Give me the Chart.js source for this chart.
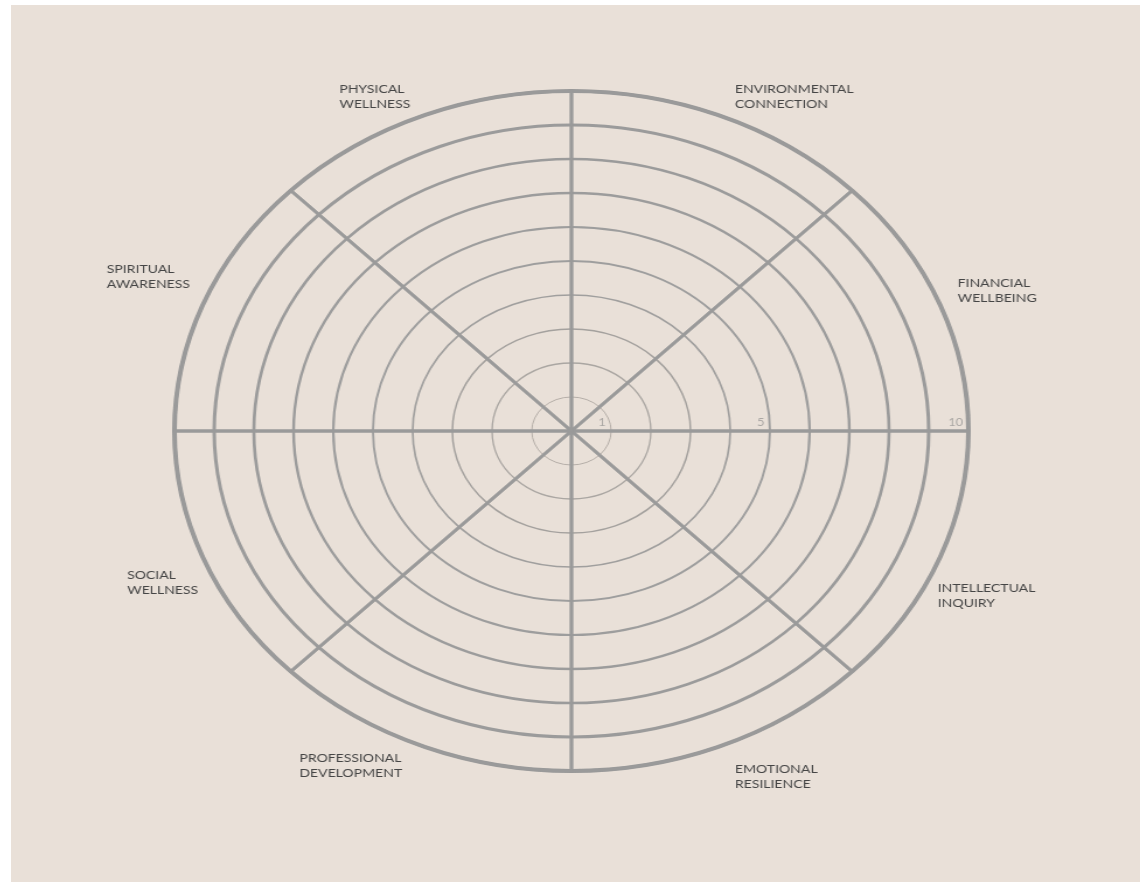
<!DOCTYPE html>
<html>
<head>
<meta charset="utf-8">
<script src="https://cdn.jsdelivr.net/npm/chart.js@4"></script>
<style>
    html, body { margin: 0; padding: 0; background: #ffffff; }
    #panel {
        position: absolute; left: 11px; top: 5px;
        width: 1129px; height: 877px;
        background: #e9e0d8; overflow: hidden;
    }
    #wheel {
        position: absolute; left: 0; top: 0;
        transform-origin: 0 0;
        transform: scaleX(1.1676);
    }
</style>
</head>
<body>
<div id="panel"><canvas id="wheel" width="966" height="877"></canvas></div>
<script>
// Wheel sectors, clockwise from the top spoke
let categories = [
    ['ENVIRONMENTAL', 'CONNECTION'],
    ['FINANCIAL', 'WELLBEING'],
    ['INTELLECTUAL', 'INQUIRY'],
    ['EMOTIONAL', 'RESILIENCE'],
    ['PROFESSIONAL', 'DEVELOPMENT'],
    ['SOCIAL', 'WELLNESS'],
    ['SPIRITUAL', 'AWARENESS'],
    ['PHYSICAL', 'WELLNESS']
];

// Blank wheel: every sector is outlined to the full score
let sectorValues = [10, 10, 10, 10, 10, 10, 10, 10];

let scaleMin = 0;
let scaleMax = 10;
let tickLabels = [1, 5, 10];

// Ring styling (thin in the middle, heavier towards the rim)
let ringWidths = [0, 1, 1.3, 1.5, 1.7, 1.9, 2.1, 2.4, 2.7, 3, 4];
let ringColors = ['#000', '#b5aea8', '#aaa6a2', '#a4a19e', '#a09f9e', '#9e9e9e',
    '#9d9d9d', '#9c9c9c', '#9b9b9b', '#9b9b9b', '#9a9a9a'];

// small hand nudges for the sector names (dx, dy)
let labelNudges = [[3, 13], [0, 13], [-17, 14], [3, 1], [-8, -10], [11, 1], [4, -1], [-1, 13]];

const wheelLabels = {
    id: 'wheelLabels',
    afterDraw(chart) {
        const scale = chart.scales.r;
        const ctx = chart.ctx;
        const n = categories.length;
        const lineH = 15;
        ctx.save();

        // Sector names, placed at the middle of each sector just outside the rim
        ctx.font = '12px Lato';
        ctx.fillStyle = '#454545';
        ctx.textAlign = 'left';
        ctx.textBaseline = 'top';
        categories.forEach((lines, i) => {
            const p = scale.getPointPosition(i, scale.drawingArea + 18, Math.PI / n);
            const w = Math.max(...lines.map(l => ctx.measureText(l).width));
            const h = lines.length * lineH;
            let x = p.x + labelNudges[i][0];
            let y = p.y + labelNudges[i][1];
            if (p.x < scale.xCenter) x -= w;
            if (p.y < scale.yCenter) y -= h;
            lines.forEach((l, k) => ctx.fillText(l, x, y + k * lineH));
        });

        // Score labels along the right-hand spoke
        ctx.font = '11px Lato';
        ctx.fillStyle = '#a9a6a3';
        ctx.textAlign = 'right';
        ctx.textBaseline = 'middle';
        tickLabels.forEach(v => {
            const d = scale.getDistanceFromCenterForValue(v);
            ctx.fillText(String(v), scale.xCenter + d - 4.5, scale.yCenter - 9);
        });
        ctx.restore();
    }
};

const data = {
    labels: categories,
    datasets: [{
        label: 'Score',
        data: sectorValues,
        backgroundColor: 'rgba(0,0,0,0)',
        borderColor: '#9a9a9a',
        borderWidth: 2.8
    }]
};

var ctx = document.getElementById('wheel').getContext('2d');
var wheelChart = new Chart(ctx, {
    type: 'polarArea',
    data,
    options: {
        responsive: false,
        animation: false,
        layout: { padding: { left: 140, top: 86, right: 146, bottom: 111 } },
        plugins: {
            legend: { display: false },
            tooltip: { enabled: false }
        },
        scales: {
            r: {
                min: scaleMin,
                max: scaleMax,
                ticks: { stepSize: 1, display: false },
                pointLabels: { display: false },
                angleLines: { display: false },
                grid: {
                    circular: true,
                    color: c => ringColors[c.index],
                    lineWidth: c => ringWidths[c.index]
                }
            }
        }
    },
    plugins: [wheelLabels]
});
</script>
</body>
</html>
